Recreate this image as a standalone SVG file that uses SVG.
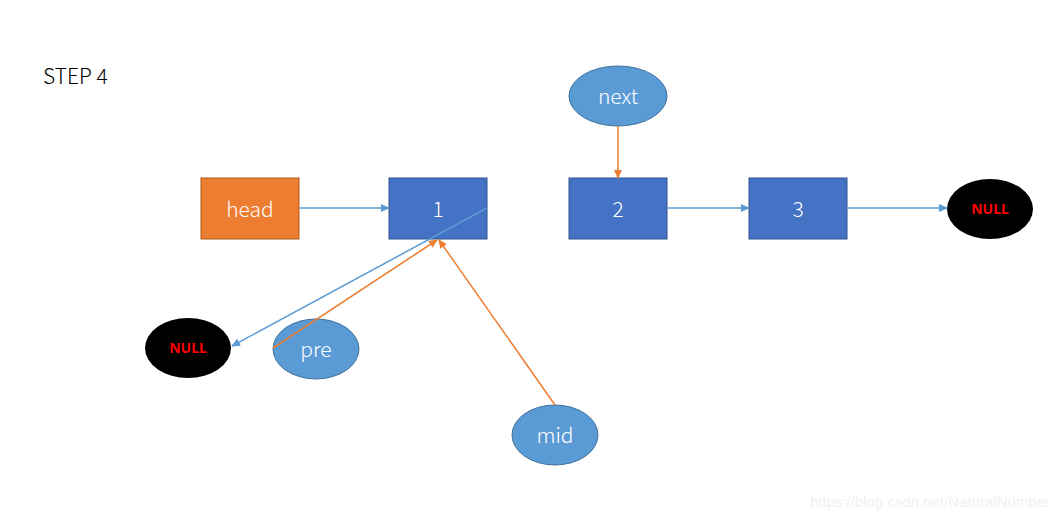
<svg xmlns="http://www.w3.org/2000/svg" width="1062" height="520" viewBox="0 0 1062 520">
<defs>
<style>
.box{fill:#4472C4;stroke:#2F528F;stroke-width:1}
.headbox{fill:#ED7D31;stroke:#AE5A21;stroke-width:1}
.ell{fill:#5B9BD5;stroke:#41719C;stroke-width:1}
.nul{fill:#000000}
.lbl{font-family:"Noto Sans CJK SC","Noto Sans",sans-serif;font-size:21px;font-weight:300;fill:#FFFFFF;text-anchor:middle}
.nl{font-family:"Noto Sans","Liberation Sans",sans-serif;font-size:14px;font-weight:bold;fill:#FF0000;text-anchor:middle}
.title{font-family:"Noto Sans CJK SC","Noto Sans",sans-serif;font-size:21px;font-weight:300;fill:#000000}
.wm{font-family:"Liberation Sans",Arial,sans-serif;font-size:15px;fill:#F0F0F0;text-anchor:end}
.blue{stroke:#5B9BD5;stroke-width:1.5;fill:none;marker-end:url(#ab)}
.orange{stroke:#ED7D31;stroke-width:1.5;fill:none;marker-end:url(#ao)}
</style>
<marker id="ab" markerWidth="9" markerHeight="8" refX="8" refY="4" orient="auto" markerUnits="userSpaceOnUse"><path d="M0,0 L9,4 L0,8 Z" fill="#5B9BD5"/></marker>
<marker id="ao" markerWidth="9" markerHeight="8" refX="8" refY="4" orient="auto" markerUnits="userSpaceOnUse"><path d="M0,0 L9,4 L0,8 Z" fill="#ED7D31"/></marker>
</defs>
<rect width="1062" height="520" fill="#FFFFFF"/>
<text class="title" x="43" y="84">STEP 4</text>
<g id="head"><rect class="headbox" x="201" y="178" width="98" height="61"/><text class="lbl" x="250" y="217">head</text></g>
<g id="n1"><rect class="box" x="389" y="178" width="98" height="61"/><text class="lbl" x="438" y="217">1</text></g>
<g id="n2"><rect class="box" x="569" y="178" width="98" height="61"/><text class="lbl" x="618" y="217">2</text></g>
<g id="n3"><rect class="box" x="749" y="178" width="98" height="61"/><text class="lbl" x="798" y="217">3</text></g>
<g id="nullR"><ellipse class="nul" cx="990" cy="209" rx="43" ry="30"/><text class="nl" x="990" y="214">NULL</text></g>
<g id="nullL"><ellipse class="nul" cx="188" cy="348" rx="43" ry="30"/><text class="nl" x="188" y="353">NULL</text></g>
<g id="next"><ellipse class="ell" cx="618" cy="96" rx="49" ry="30"/><text class="lbl" x="618" y="104">next</text></g>
<g id="pre"><ellipse class="ell" cx="316" cy="349" rx="43" ry="30"/><text class="lbl" x="316" y="357">pre</text></g>
<g id="mid"><ellipse class="ell" cx="555" cy="435" rx="43" ry="30"/><text class="lbl" x="555" y="443">mid</text></g>
<g id="connectors">
<line class="blue" x1="299" y1="208" x2="389" y2="208"/>
<line class="blue" x1="667" y1="208" x2="749" y2="208"/>
<line class="blue" x1="847" y1="208" x2="947" y2="208"/>
<line class="orange" x1="618" y1="126" x2="618" y2="178"/>
<line class="blue" x1="487" y1="208" x2="232" y2="346"/>
<line class="orange" x1="273" y1="348" x2="437" y2="240"/>
<line class="orange" x1="555" y1="405" x2="439" y2="240"/>
</g>
<text class="wm" x="1050" y="507">https://blog.csdn.net/NaturalNumber</text>
</svg>
